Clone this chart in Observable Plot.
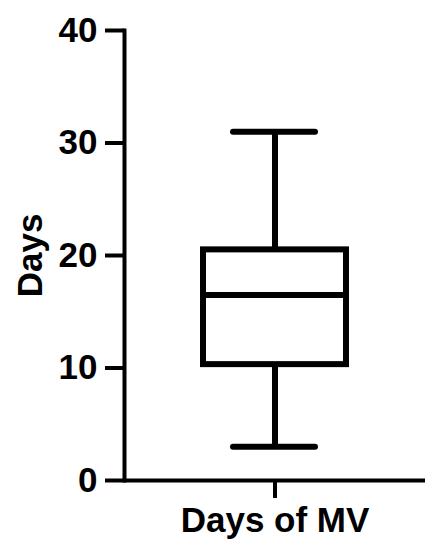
<!DOCTYPE html>
<html>
<head>
<meta charset="utf-8">
<script src="https://cdn.jsdelivr.net/npm/d3@7"></script>
<script src="https://cdn.jsdelivr.net/npm/@observablehq/plot@0.6"></script>
<style>
  html, body { margin: 0; padding: 0; background: #fff; }
</style>
</head>
<body>
<div id="chart"></div>
<script>
const categories = ["Days of MV"];
const mins = [3];
const q1s = [10.3];
const medians = [16.5];
const q3s = [20.5];
const maxs = [31];
const yTicks = [0, 10, 20, 30, 40];
const yTitle = "Days";

const data = categories.map((c, i) => ({
  cat: c, min: mins[i], q1: q1s[i], med: medians[i], q3: q3s[i], max: maxs[i]
}));

const chart = Plot.plot({
  width: 439,
  height: 550,
  marginTop: 30,
  marginBottom: 70,
  marginLeft: 124,
  marginRight: 14,
  style: { fontFamily: "'Liberation Sans', Arial, sans-serif", color: "black", background: "white" },
  x: { type: "band", domain: categories, padding: 0 },
  y: { domain: [0, 40] },
  marks: [
    Plot.ruleX(data, { x: "cat", y1: "min", y2: "q1", strokeWidth: 6 }),
    Plot.ruleX(data, { x: "cat", y1: "q3", y2: "max", strokeWidth: 6 }),
    Plot.tickY(data, { x: "cat", y: "min", strokeWidth: 6, insetLeft: 109, insetRight: 110, strokeLinecap: "round" }),
    Plot.tickY(data, { x: "cat", y: "max", strokeWidth: 6, insetLeft: 109, insetRight: 110, strokeLinecap: "round" }),
    Plot.barY(data, { x: "cat", y1: "q1", y2: "q3", fill: "white", stroke: "black", strokeWidth: 6, insetLeft: 79, insetRight: 79 }),
    Plot.tickY(data, { x: "cat", y: "med", strokeWidth: 6, insetLeft: 79, insetRight: 79 }),
    Plot.ruleY([0], { strokeWidth: 4 }),
    Plot.frame({ anchor: "left", strokeWidth: 4 }),
    Plot.axisY({ ticks: yTicks, tickSize: 19, tickPadding: 8, strokeWidth: 4, fontSize: 35, fontWeight: "bold", label: null }),
    Plot.axisX({ tickSize: 18, tickPadding: 9, strokeWidth: 4, fontSize: 35, fontWeight: "bold", label: null }),
    Plot.text([yTitle], { text: d => d, frameAnchor: "left", textAnchor: "middle", dx: -94, rotate: -90, fontSize: 35, fontWeight: "bold" })
  ]
});
document.getElementById("chart").appendChild(chart);
</script>
</body>
</html>
